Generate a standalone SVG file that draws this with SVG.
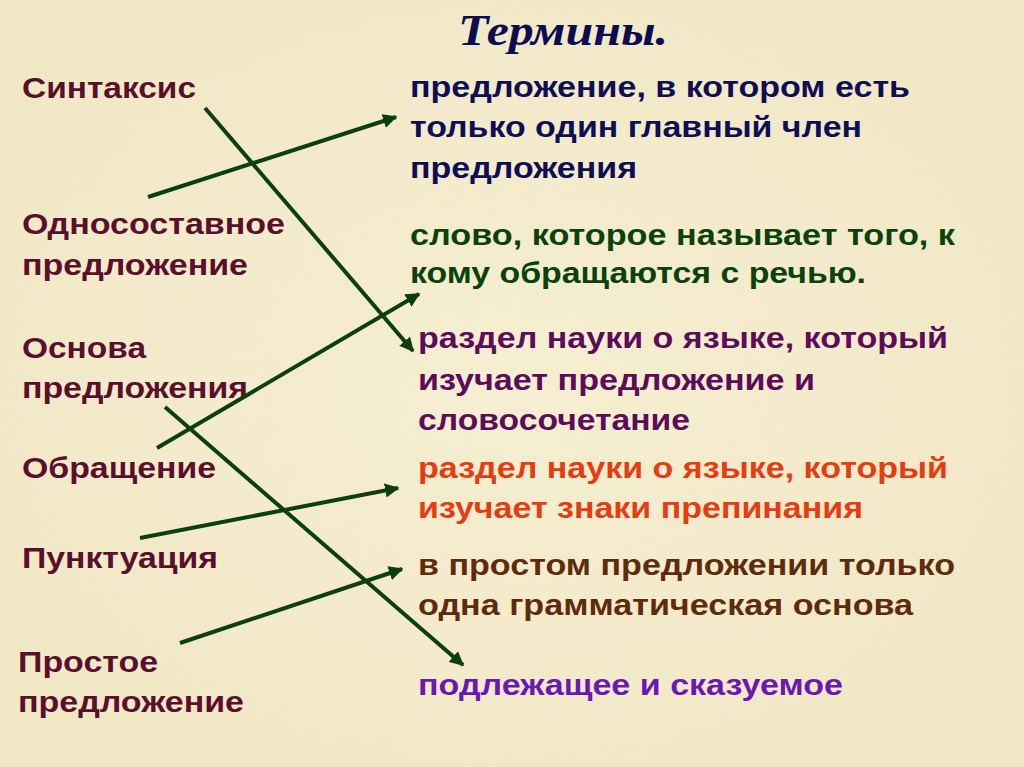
<svg xmlns="http://www.w3.org/2000/svg" width="1024" height="767" viewBox="0 0 1024 767">
<style>
text{font-family:"Liberation Sans",Arial,sans-serif;font-weight:bold;font-size:29px}
.term{fill:#5a0f2c}
.title{font-family:"Liberation Serif","Times New Roman",serif;font-style:italic;font-size:45px;fill:#0c0c52}
.c{stroke:#0c3f10;stroke-width:4;fill:none;marker-end:url(#ah)}
</style>
<defs>
<marker id="ah" viewBox="0 0 10 10" refX="9" refY="5" markerWidth="3.6" markerHeight="3.6" orient="auto" markerUnits="strokeWidth">
<path d="M0,0 L10,5 L0,10 z" fill="#0c3f10"/>
</marker>
<radialGradient id="bg" cx="50%" cy="50%" r="75%">
<stop offset="0" stop-color="#f6efd2"/>
<stop offset="1" stop-color="#f0e6c2"/>
</radialGradient>
<filter id="tex" x="0" y="0" width="100%" height="100%">
<feTurbulence type="fractalNoise" baseFrequency="0.05" numOctaves="3" seed="4"/>
<feColorMatrix type="matrix" values="0 0 0 0 0.85  0 0 0 0 0.78  0 0 0 0 0.55  0 0 0 0.35 -0.05"/>
</filter>
</defs>
<rect width="1024" height="767" fill="url(#bg)"/>
<rect width="1024" height="767" filter="url(#tex)" opacity="0.5"/>
<g id="title"><text class="title" x="458" y="45" textLength="210" lengthAdjust="spacingAndGlyphs">Термины.</text></g>
<g id="t1"><text class="term" x="22" y="98" textLength="174" lengthAdjust="spacingAndGlyphs">Синтаксис</text></g>
<g id="t2"><text class="term" x="22" y="234" textLength="263" lengthAdjust="spacingAndGlyphs">Односоставное</text><text class="term" x="22" y="275" textLength="226" lengthAdjust="spacingAndGlyphs">предложение</text></g>
<g id="t3"><text class="term" x="22" y="358" textLength="124" lengthAdjust="spacingAndGlyphs">Основа</text><text class="term" x="22" y="398" textLength="226" lengthAdjust="spacingAndGlyphs">предложения</text></g>
<g id="t4"><text class="term" x="22" y="478" textLength="194" lengthAdjust="spacingAndGlyphs">Обращение</text></g>
<g id="t5"><text class="term" x="22" y="568" textLength="196" lengthAdjust="spacingAndGlyphs">Пунктуация</text></g>
<g id="t6"><text class="term" x="18" y="672" textLength="140" lengthAdjust="spacingAndGlyphs">Простое</text><text class="term" x="18" y="712" textLength="226" lengthAdjust="spacingAndGlyphs">предложение</text></g>
<g id="d1" fill="#0e0e55"><text x="410" y="97" textLength="500" lengthAdjust="spacingAndGlyphs">предложение, в котором есть</text><text x="410" y="137" textLength="452" lengthAdjust="spacingAndGlyphs">только один главный член</text><text x="410" y="178" textLength="227" lengthAdjust="spacingAndGlyphs">предложения</text></g>
<g id="d2" fill="#0b420c"><text x="410" y="245" textLength="545" lengthAdjust="spacingAndGlyphs">слово, которое называет того, к</text><text x="410" y="283" textLength="456" lengthAdjust="spacingAndGlyphs">кому обращаются с речью.</text></g>
<g id="d3" fill="#5c0c5a"><text x="418" y="348" textLength="530" lengthAdjust="spacingAndGlyphs">раздел науки о языке, который</text><text x="418" y="390" textLength="397" lengthAdjust="spacingAndGlyphs">изучает предложение и</text><text x="418" y="430" textLength="272" lengthAdjust="spacingAndGlyphs">словосочетание</text></g>
<g id="d4" fill="#e63c12"><text x="418" y="478" textLength="530" lengthAdjust="spacingAndGlyphs">раздел науки о языке, который</text><text x="418" y="518" textLength="445" lengthAdjust="spacingAndGlyphs">изучает знаки препинания</text></g>
<g id="d5" fill="#5e2c0c"><text x="418" y="575" textLength="537" lengthAdjust="spacingAndGlyphs">в простом предложении только</text><text x="418" y="615" textLength="495" lengthAdjust="spacingAndGlyphs">одна грамматическая основа</text></g>
<g id="d6" fill="#6a18b4"><text x="418" y="695" textLength="425" lengthAdjust="spacingAndGlyphs">подлежащее и сказуемое</text></g>
<g id="connectors">
<line class="c" x1="205" y1="108" x2="413" y2="351"/>
<line class="c" x1="148" y1="197" x2="396" y2="117"/>
<line class="c" x1="157" y1="448" x2="419" y2="294"/>
<line class="c" x1="165" y1="407" x2="463" y2="665"/>
<line class="c" x1="140" y1="538" x2="398" y2="488"/>
<line class="c" x1="180" y1="643" x2="402" y2="569"/>
</g>
</svg>
